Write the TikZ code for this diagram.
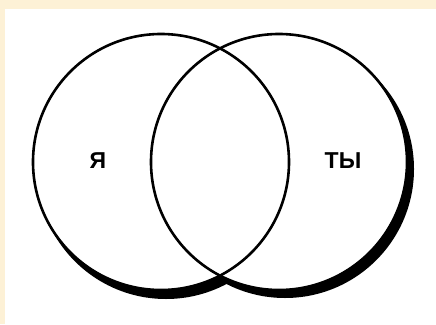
\documentclass[tikz,border=0pt]{standalone}
\usepackage{fontspec}
\setmainfont{Liberation Sans}
\definecolor{cream}{RGB}{253,241,214}
\tikzset{
  ring/.style={draw=black, line width=2.6pt},
  label/.style={font=\bfseries\fontsize{23}{27}\selectfont, inner sep=0pt},
}
\begin{document}
\begin{tikzpicture}[x=1pt,y=-1pt]
\useasboundingbox (0,0) rectangle (436,324);
\fill[cream] (0,0) rectangle (436,324);
\fill[white] (5,9) rectangle (436,324);
\coordinate (cl) at (161,162);
\coordinate (cr) at (279,162);
% shadows
\fill[black] ([shift={(5,8)}]cl) circle (129);
\fill[black] ([shift={(6,7)}]cr) circle (129);
\fill[white] (cl) circle (128);
\fill[white] (cr) circle (128);
\draw[ring] (cl) circle (128);
\draw[ring] (cr) circle (128);
\node[label] (ya) at (98,161) {Я};
\node[label] (ty) at (343,161) {ТЫ};
\end{tikzpicture}
\end{document}
